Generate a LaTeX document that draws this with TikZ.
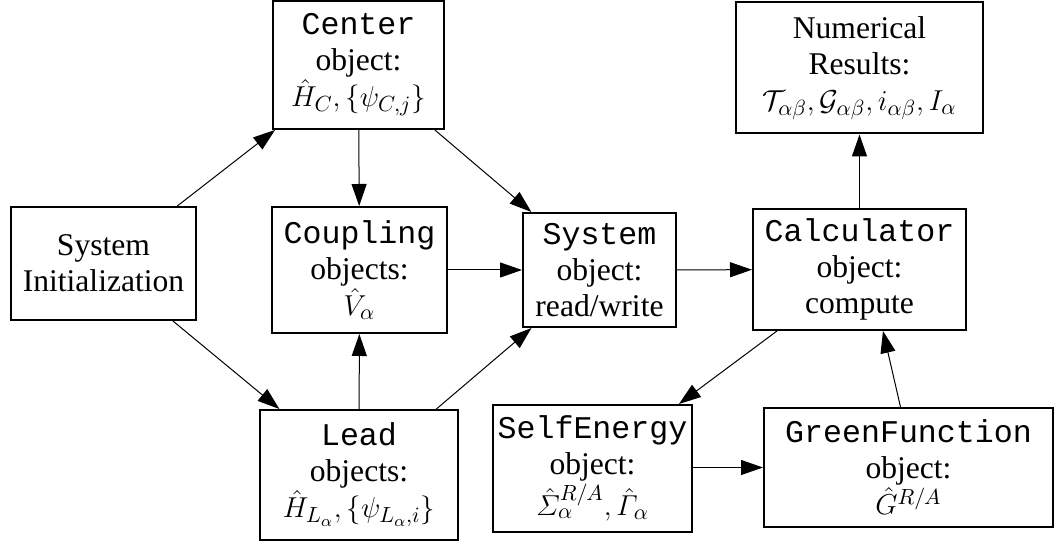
\documentclass[tikz,border=0pt]{standalone}
\usepackage[no-math]{fontspec}
\setmainfont{Liberation Serif}
\setmonofont{Liberation Mono}
\usetikzlibrary{arrows.meta,positioning}

% slanted capital Greek from the math letters font
\DeclareMathSymbol{\itSigma}{\mathord}{letters}{"06}
\DeclareMathSymbol{\itGamma}{\mathord}{letters}{"00}

\tikzset{
  box/.style={draw, line width=1pt, align=center, inner sep=0pt,
    font=\fontsize{15.8pt}{18pt}\selectfont},
  arr/.style={line width=0.5pt, -{Triangle[length=11pt,width=7.5pt]}}
}

\begin{document}
\begin{tikzpicture}[x=0.5pt, y=-0.5pt]
  \useasboundingbox (0,0) rectangle (1062,544);

  % first column: setup
  \node[box, minimum width=92.5pt, minimum height=56.5pt] (init) at (103.5,263.5)
    {System\\Initialization};

  % second column: centre, coupling and lead objects
  \node[box, minimum width=85.5pt, minimum height=64pt] (center) at (358.5,65)
    {\texttt{Center}\\object:\\$\hat{H}_C,\{\psi_{C,j}\}$};
  \node[box, minimum width=87.5pt, minimum height=63pt] (coupling) at (359.5,270)
    {\texttt{Coupling}\\objects:\\$\hat{V}_\alpha$};
  \node[box, minimum width=99pt, minimum height=65pt] (lead) at (359,475)
    {\texttt{Lead}\\objects:\\$\hat{H}_{L_\alpha},\{\psi_{L_\alpha,i}\}$};

  % third column: system and self energy
  \node[box, minimum width=76.5pt, minimum height=57pt] (system) at (599.5,270)
    {\texttt{System}\\object:\\read/write};
  \node[box, minimum width=99.5pt, minimum height=63.5pt] (self) at (592.5,468.5)
    {\texttt{SelfEnergy}\\object:\\$\hat{\itSigma}^{R/A}_\alpha,\hat{\itGamma}_\alpha$};

  % fourth column: calculator, results, Green's function
  \node[box, minimum width=106.5pt, minimum height=60.5pt] (calc) at (859.5,269.5)
    {\texttt{Calculator}\\object:\\compute};
  \node[box, minimum width=123.5pt, minimum height=65.5pt] (numres) at (859.5,68)
    {Numerical\\Results:\\$\mathcal{T}_{\alpha\beta},\mathcal{G}_{\alpha\beta},i_{\alpha\beta},I_\alpha$};
  \node[box, minimum width=144.5pt, minimum height=59.5pt] (green) at (908.5,467.5)
    {\texttt{GreenFunction}\\object:\\$\hat{G}^{R/A}$};

  % data flow
  \draw[arr] (init) -- (center);
  \draw[arr] (init) -- (lead);
  \draw[arr] (center) -- (coupling);
  \draw[arr] (lead) -- (coupling);
  \draw[arr] (center) -- (system);
  \draw[arr] (lead) -- (system);
  \draw[arr] (coupling.east |- system.west) -- (system.west);
  \draw[arr] (system) -- (calc);
  \draw[arr] (calc) -- (numres);
  \draw[arr] (calc) -- (self);
  \draw[arr] (self.east |- green.west) -- (green.west);
  \draw[arr] ([xshift=-4pt]green.north) -- ([xshift=11.75pt]calc.south);
\end{tikzpicture}
\end{document}
